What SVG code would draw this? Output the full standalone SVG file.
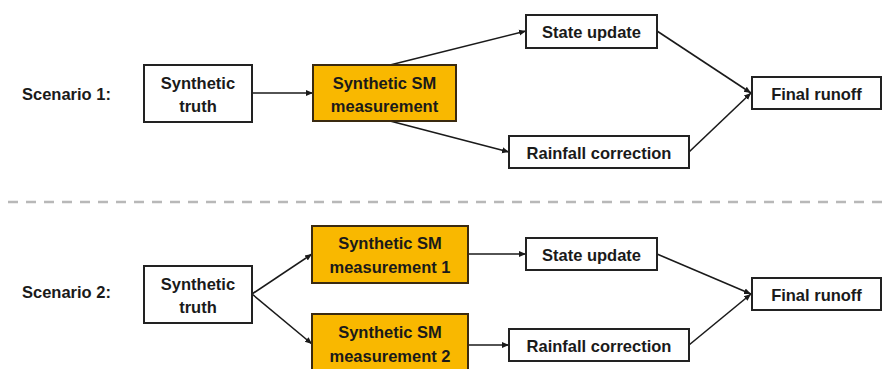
<svg xmlns="http://www.w3.org/2000/svg" width="886" height="369" viewBox="0 0 886 369">
<style>
.box{fill:#fff;stroke:#222;stroke-width:2}
.sm{fill:#f9b800;stroke:#3a2a10;stroke-width:2}
.t{font-family:"Liberation Sans",Arial,sans-serif;font-weight:bold;font-size:16.5px;fill:#1a1a1a;text-anchor:middle}
.lbl{font-family:"Liberation Sans",Arial,sans-serif;font-weight:bold;font-size:16.5px;fill:#1a1a1a}
.c{stroke:#1a1a1a;stroke-width:1.6;fill:none;marker-end:url(#ah)}
</style>
<defs>
<marker id="ah" markerWidth="8" markerHeight="8" refX="7" refY="4" orient="auto" markerUnits="userSpaceOnUse">
<path d="M0,1 L7,4 L0,7 z" fill="#1a1a1a"/>
</marker>
</defs>
<rect width="886" height="369" fill="#fff"/>
<text class="lbl" x="22" y="100">Scenario 1:</text>
<text class="lbl" x="22" y="298">Scenario 2:</text>
<line x1="8" y1="202" x2="886" y2="202" stroke="#b8b8b8" stroke-width="2.5" stroke-dasharray="10,8"/>
<g id="connectors">
<line class="c" x1="252" y1="93" x2="313" y2="93"/>
<line class="c" x1="390" y1="65" x2="526" y2="31"/>
<line class="c" x1="390" y1="121" x2="509" y2="152"/>
<line class="c" x1="657" y1="31" x2="751" y2="93"/>
<line class="c" x1="689" y1="152" x2="751" y2="93"/>
<line class="c" x1="252" y1="294" x2="312" y2="254"/>
<line class="c" x1="252" y1="294" x2="312" y2="344"/>
<line class="c" x1="468" y1="254" x2="526" y2="254"/>
<line class="c" x1="468" y1="345" x2="509" y2="345"/>
<line class="c" x1="657" y1="254" x2="751" y2="294"/>
<line class="c" x1="689" y1="345" x2="751" y2="294"/>
</g>
<g id="truth1"><rect class="box" x="144" y="65" width="108" height="57"/><text class="t" x="198" y="88.5">Synthetic</text><text class="t" x="198" y="111.5">truth</text></g>
<g id="sm1"><rect class="sm" x="313" y="65" width="143" height="56"/><text class="t" x="384.5" y="88.5">Synthetic SM</text><text class="t" x="384.5" y="111.5">measurement</text></g>
<g id="state1"><rect class="box" x="526" y="15" width="131" height="33"/><text class="t" x="591.5" y="37.5">State update</text></g>
<g id="rain1"><rect class="box" x="509" y="136" width="180" height="32"/><text class="t" x="599" y="158.5">Rainfall correction</text></g>
<g id="final1"><rect class="box" x="752" y="77" width="129" height="32"/><text class="t" x="816.5" y="99.5">Final runoff</text></g>
<g id="truth2"><rect class="box" x="144" y="266" width="108" height="57"/><text class="t" x="198" y="289.5">Synthetic</text><text class="t" x="198" y="312.5">truth</text></g>
<g id="sm2a"><rect class="sm" x="312" y="226" width="156" height="57"/><text class="t" x="390" y="248.5">Synthetic SM</text><text class="t" x="390" y="272.5">measurement 1</text></g>
<g id="sm2b"><rect class="sm" x="312" y="314" width="156" height="62"/><text class="t" x="390" y="337.5">Synthetic SM</text><text class="t" x="390" y="361.5">measurement 2</text></g>
<g id="state2"><rect class="box" x="526" y="238" width="131" height="32"/><text class="t" x="591.5" y="260.5">State update</text></g>
<g id="rain2"><rect class="box" x="509" y="329" width="180" height="32"/><text class="t" x="599" y="351.5">Rainfall correction</text></g>
<g id="final2"><rect class="box" x="752" y="278" width="129" height="32"/><text class="t" x="816.5" y="300.5">Final runoff</text></g>
</svg>
